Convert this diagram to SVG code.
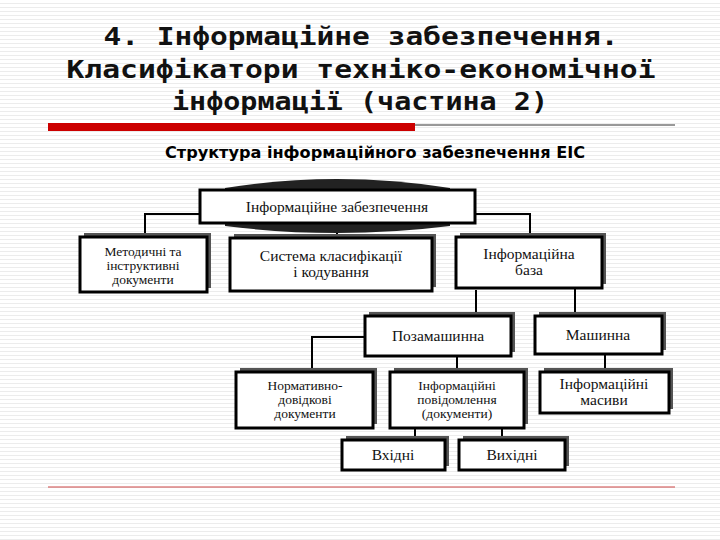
<svg xmlns="http://www.w3.org/2000/svg" width="720" height="540" viewBox="0 0 720 540">
<defs>
<pattern id="st" width="8" height="4" patternUnits="userSpaceOnUse"><rect width="8" height="4" fill="#fff"/><rect y="3" width="8" height="1" fill="#ececec"/></pattern>
</defs>
<style>
.t{font-family:"DejaVu Sans Mono",monospace;font-weight:bold;font-size:25px;fill:#111;text-anchor:middle}
.s{font-family:"DejaVu Sans Condensed","DejaVu Sans",sans-serif;font-weight:bold;font-size:16px;text-anchor:middle}
.b{fill:#fff;stroke:#000;stroke-width:3}
.sh{fill:#555}
.l{font-family:"Liberation Serif",serif;font-size:15.5px;text-anchor:middle;fill:#111}
.m{font-size:13.5px}
.c{fill:none;stroke:#000;stroke-width:2}
</style>
<rect width="720" height="540" fill="url(#st)"/>
<text class="t" x="361" y="45" textLength="515" lengthAdjust="spacingAndGlyphs">4. Інформаційне забезпечення.</text>
<text class="t" x="361" y="78" textLength="589" lengthAdjust="spacingAndGlyphs">Класифікатори техніко-економічної</text>
<text class="t" x="360" y="110" textLength="376" lengthAdjust="spacingAndGlyphs">інформації (частина 2)</text>
<rect x="48" y="123" width="367" height="8" fill="#cc0000"/>
<line x1="415" y1="125" x2="675" y2="125" stroke="#333" stroke-width="1"/>
<text class="s" x="375" y="158" textLength="420" lengthAdjust="spacingAndGlyphs">Структура інформаційного забезпечення ЕІС</text>
<line x1="48" y1="487" x2="675" y2="487" stroke="#c44" stroke-width="1"/>
<g id="connectors">
<path class="c" d="M200 214 H145 V237 M337 223 V238 M475 214 H530 V237 M476 290 V316 M575 288 V316 M365 337 H312 V372 M457 356 V372 M605 354 V372 M415 428 V440 M502 428 V440"/>
</g>
<g id="n-top">
<path d="M225 188 Q337 170 450 188 L450 226 Q337 240 225 226 Z" fill="#222"/>
<rect class="b" x="200" y="190" width="275" height="33"/>
<text class="l" x="337" y="212">Інформаційне забезпечення</text>
</g>
<g id="n-metod">
<rect class="sh" x="84" y="233" width="127" height="55"/>
<rect class="b" x="80" y="237" width="127" height="55"/>
<text class="l m" x="143" y="256">Методичні та</text>
<text class="l m" x="143" y="270">інструктивні</text>
<text class="l m" x="143" y="284">документи</text>
</g>
<g id="n-sys">
<rect class="sh" x="234" y="234" width="202" height="53"/>
<rect class="b" x="230" y="238" width="202" height="53"/>
<text class="l" x="331" y="261">Система класифікації</text>
<text class="l" x="331" y="277">і кодування</text>
</g>
<g id="n-baza">
<rect class="sh" x="460" y="233" width="146" height="51"/>
<rect class="b" x="456" y="237" width="146" height="51"/>
<text class="l" x="529" y="259">Інформаційна</text>
<text class="l" x="529" y="275">база</text>
</g>
<g id="n-poza">
<rect class="sh" x="369" y="312" width="146" height="40"/>
<rect class="b" x="365" y="316" width="146" height="40"/>
<text class="l" x="438" y="341">Позамашинна</text>
</g>
<g id="n-mash">
<rect class="sh" x="539" y="312" width="127" height="38"/>
<rect class="b" x="535" y="316" width="127" height="38"/>
<text class="l" x="598" y="340">Машинна</text>
</g>
<g id="n-norm">
<rect class="sh" x="240" y="368" width="137" height="56"/>
<rect class="b" x="236" y="372" width="137" height="56"/>
<text class="l m" x="305" y="390">Нормативно-</text>
<text class="l m" x="305" y="404">довідкові</text>
<text class="l m" x="305" y="418">документи</text>
</g>
<g id="n-povid">
<rect class="sh" x="394" y="368" width="134" height="56"/>
<rect class="b" x="390" y="372" width="134" height="56"/>
<text class="l m" x="457" y="390">Інформаційні</text>
<text class="l m" x="457" y="404">повідомлення</text>
<text class="l m" x="457" y="418">(документи)</text>
</g>
<g id="n-masyv">
<rect class="sh" x="544" y="368" width="129" height="41"/>
<rect class="b" x="540" y="372" width="129" height="41"/>
<text class="l" x="604" y="389">Інформаційні</text>
<text class="l" x="604" y="405">масиви</text>
</g>
<g id="n-vkh">
<rect class="sh" x="346" y="436" width="103" height="30"/>
<rect class="b" x="342" y="440" width="103" height="30"/>
<text class="l" x="393" y="460">Вхідні</text>
</g>
<g id="n-vykh">
<rect class="sh" x="463" y="436" width="106" height="30"/>
<rect class="b" x="459" y="440" width="106" height="30"/>
<text class="l" x="512" y="460">Вихідні</text>
</g>
</svg>
